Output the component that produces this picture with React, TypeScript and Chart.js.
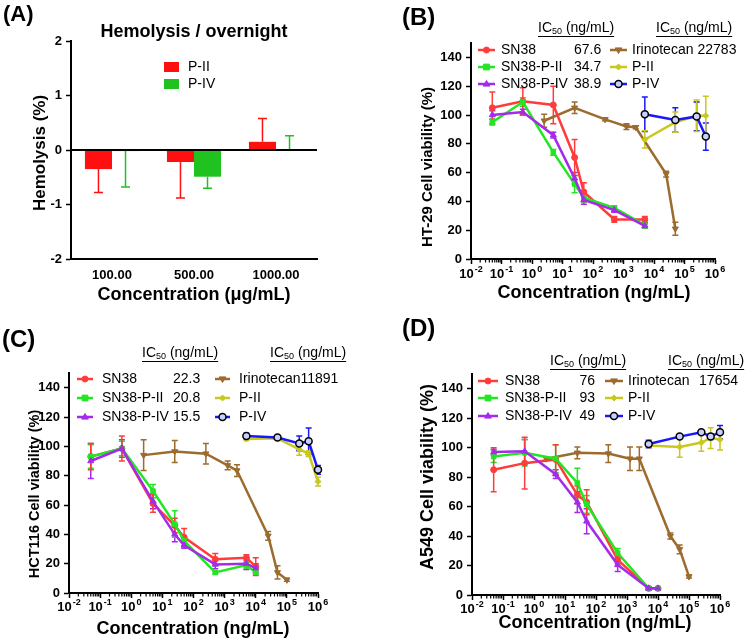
import React, { useEffect, useRef } from 'react';
import { Chart, registerables } from 'chart.js';

Chart.register(...registerables);

const FONT = '"Liberation Sans", Arial, Helvetica, sans-serif';

// ---------- Panel A: hemolysis ----------
const hemoCategories = ['100.00', '500.00', '1000.00'];
const hemoPII = [-0.35, -0.22, 0.15];
const hemoPIIErr = [0.43, 0.66, 0.43];
const hemoPIV = [-0.02, -0.49, 0.01];
const hemoPIVErr = [0.66, 0.21, 0.25];
const hemoYTicks = [-2, -1, 0, 1, 2];

// ---------- shared axis ticks ----------
const xTickExponents = [-2, -1, 0, 1, 2, 3, 4, 5, 6];
const viabilityYTicks = [0, 20, 40, 60, 80, 100, 120, 140];

// ---------- concentrations (ng/mL) ----------
const concSN38HT29 = [0.05, 0.5, 5, 25, 50, 500, 5000];
const concSN38 = [0.05, 0.5, 5, 25, 50, 500, 5000, 10000];
const concIrinoHT29 = [2.5, 25, 250, 1250, 2500, 25000, 50000];
const concIrino = [2.5, 25, 250, 1250, 2500, 25000, 50000, 100000];
const concPolyHT29 = [5000, 50000, 250000, 500000];
const concPoly = [5000, 50000, 250000, 500000, 1000000];

// ---------- Panel B: HT-29 ----------
const htSN38 = [105, 109.5, 107, 70.5, 46.5, 27.5, 27.5];
const htSN38Err = [11, 9.5, 13, 12.5, 6.5, 2, 2];
const htSN38PII = [95, 109, 74, 52, 42.5, 35.5, 23.5];
const htSN38PIIErr = [2, 3, 2, 6, 3, 1.5, 2];
const htSN38PIV = [100, 102, 86, 56, 41, 34, 23];
const htSN38PIVErr = [3, 2, 2, 4, 3, 1.5, 1.5];
const htIrino = [96, 105, 97, 92, 91.5, 59, 21];
const htIrinoErr = [4.5, 4, 1, 2, 1, 2, 4.5];
const htPII = [83, 95, 99.5, 99.5];
const htPIIErr = [6, 7, 11, 13.5];
const htPIV = [100.5, 96.5, 99, 85];
const htPIVErr = [12, 8.5, 10, 9.5];
const htIC50 = ['67.6', '34.7', '38.9'];
const htIC50Irino = '22783';

// ---------- Panel C: HCT116 ----------
const hctSN38 = [93, 98.5, 61, 46, 38, 23, 24, 18];
const hctSN38Err = [9, 8.5, 6, 5, 6, 4, 2, 6];
const hctSN38PII = [93, 98.5, 69.5, 47, 35.5, 14, 19, 14];
const hctSN38PIIErr = [8, 5, 4.5, 9, 3, 1, 2, 1];
const hctSN38PIV = [90, 98.5, 62.5, 40, 32.5, 19.5, 20, 17];
const hctSN38PIVErr = [12, 6, 5, 5, 2, 3, 4, 3];
const hctIrino = [94, 96.5, 95, 87, 83.5, 39, 14, 9];
const hctIrinoErr = [10.5, 7.5, 7, 3, 4, 3, 4.5, 1];
const hctPII = [105, 105.5, 98, 95, 76];
const hctPIIErr = [1, 1, 4, 2, 3];
const hctPIV = [107, 106, 102, 103.5, 84];
const hctPIVErr = [2, 1, 5, 9, 3];
const hctIC50 = ['22.3', '20.8', '15.5'];
const hctIC50Irino = '11891';

// ---------- Panel D: A549 ----------
const a549SN38 = [85, 89.5, 92, 68, 63, 24, 4.5, 4.5];
const a549SN38Err = [15, 17.5, 10, 6, 8.5, 3, 1, 1];
const a549SN38PII = [94, 96.5, 92.5, 76, 61.5, 28.5, 4.5, 4.5];
const a549SN38PIIErr = [4, 9, 9.5, 10, 6, 3, 1, 1];
const a549SN38PIV = [97, 97.5, 82, 63, 50, 20.5, 4.5, 4.5];
const a549SN38PIVErr = [2, 8, 3, 7, 8.5, 4.5, 1, 1];
const a549Irino = [92.5, 96.5, 96, 92.5, 92.5, 40, 31, 12.5];
const a549IrinoErr = [1, 4, 6, 8, 8, 2, 3, 1];
const a549PII = [101.5, 100.5, 103.5, 106.5, 105.5];
const a549PIIErr = [1, 7, 6, 7, 7];
const a549PIV = [102.5, 107.5, 110.5, 107.5, 110.5];
const a549PIVErr = [2.5, 1, 1, 2, 4.5];
const a549IC50 = ['76', '93', '49'];
const a549IC50Irino = '17654';

// ---------- styles ----------
type Style = { color: string; point: string; rot: number; radius: number; fill: string; border: string; bw: number };
const sSN38: Style = { color: '#ff3c3c', point: 'circle', rot: 0, radius: 3, fill: '#ff3c3c', border: '#ff3c3c', bw: 1 };
const sSN38PII: Style = { color: '#22e622', point: 'rect', rot: 0, radius: 3.2, fill: '#22e622', border: '#22e622', bw: 1 };
const sSN38PIV: Style = { color: '#a42bea', point: 'triangle', rot: 0, radius: 3.5, fill: '#a42bea', border: '#a42bea', bw: 1 };
const sIrino: Style = { color: '#9c6b2e', point: 'triangle', rot: 180, radius: 3.5, fill: '#9c6b2e', border: '#9c6b2e', bw: 1 };
const sPII: Style = { color: '#c8c81e', point: 'rectRot', rot: 0, radius: 3, fill: '#c8c81e', border: '#c8c81e', bw: 1 };
const sPIV: Style = { color: '#1818ff', point: 'circle', rot: 0, radius: 3.5, fill: '#c8d0ff', border: '#000000', bw: 1.5 };

type Series = { name: string; conc: number[]; vals: number[]; errs: number[]; st: Style };

function drawMarker(ctx: CanvasRenderingContext2D, st: Style, x: number, y: number) {
  const r = st.radius;
  ctx.save();
  ctx.fillStyle = st.fill;
  ctx.strokeStyle = st.border;
  ctx.lineWidth = st.bw;
  ctx.beginPath();
  if (st.point === 'circle') {
    ctx.arc(x, y, r, 0, Math.PI * 2);
  } else if (st.point === 'rect') {
    const h = r * 0.9;
    ctx.rect(x - h, y - h, 2 * h, 2 * h);
  } else if (st.point === 'rectRot') {
    ctx.moveTo(x, y - r); ctx.lineTo(x + r, y); ctx.lineTo(x, y + r); ctx.lineTo(x - r, y); ctx.closePath();
  } else if (st.point === 'triangle') {
    const s = st.rot === 180 ? -1 : 1;
    ctx.moveTo(x, y - s * r); ctx.lineTo(x + r * 0.95, y + s * r * 0.6); ctx.lineTo(x - r * 0.95, y + s * r * 0.6); ctx.closePath();
  }
  ctx.fill();
  ctx.stroke();
  ctx.restore();
}

const errorBars = {
  id: 'errorBars',
  beforeDatasetsDraw(chart: any) { paintErrors(chart, false); },
  afterDatasetsDraw(chart: any) { paintErrors(chart, true); },
};

function paintErrors(chart: any, onTop: boolean) {
  const ctx: CanvasRenderingContext2D = chart.ctx;
  const ys = chart.scales.y;
  chart.data.datasets.forEach((ds: any, i: number) => {
    if (!ds.errors || !!ds.errorsOnTop !== onTop) return;
    const meta = chart.getDatasetMeta(i);
    ctx.save();
    ctx.strokeStyle = ds.errorColor || ds.borderColor;
    ctx.lineWidth = 1.5;
    meta.data.forEach((el: any, j: number) => {
      const e = ds.errors[j];
      if (!e) return;
      const raw = ds.data[j];
      const v = typeof raw === 'number' ? raw : raw.y;
      const x = el.x;
      const cw = ds.capHalf || 3;
      ctx.beginPath();
      if (ds.oneSided) {
        const end = v >= 0 ? v + e : v - e;
        const p0 = ys.getPixelForValue(v);
        const p1 = ys.getPixelForValue(end);
        ctx.moveTo(x, p0); ctx.lineTo(x, p1);
        ctx.moveTo(x - cw, p1); ctx.lineTo(x + cw, p1);
      } else {
        const pt = ys.getPixelForValue(v + e);
        const pb = ys.getPixelForValue(v - e);
        ctx.moveTo(x, pt); ctx.lineTo(x, pb);
        ctx.moveTo(x - cw, pt); ctx.lineTo(x + cw, pt);
        ctx.moveTo(x - cw, pb); ctx.lineTo(x + cw, pb);
      }
      ctx.stroke();
    });
    ctx.restore();
  });
}

function drawRotatedTitle(ctx: CanvasRenderingContext2D, text: string, cx: number, cy: number, size: number) {
  ctx.save();
  ctx.translate(cx, cy);
  ctx.rotate(-Math.PI / 2);
  ctx.font = `bold ${size}px ${FONT}`;
  ctx.fillStyle = '#000';
  ctx.textAlign = 'center';
  ctx.textBaseline = 'middle';
  ctx.fillText(text, 0, 0);
  ctx.restore();
}

function drawCenteredText(ctx: CanvasRenderingContext2D, text: string, cx: number, cy: number, font: string) {
  ctx.save();
  ctx.font = font;
  ctx.fillStyle = '#000';
  ctx.textAlign = 'center';
  ctx.textBaseline = 'middle';
  ctx.fillText(text, cx, cy);
  ctx.restore();
}

function drawIC50Header(ctx: CanvasRenderingContext2D, x: number, y: number) {
  ctx.save();
  ctx.fillStyle = '#000';
  ctx.textAlign = 'left';
  ctx.textBaseline = 'middle';
  ctx.font = `14px ${FONT}`;
  ctx.fillText('IC', x, y);
  let w = ctx.measureText('IC').width;
  ctx.font = `9px ${FONT}`;
  ctx.fillText('50', x + w, y + 4);
  w += ctx.measureText('50').width;
  ctx.font = `14px ${FONT}`;
  ctx.fillText(' (ng/mL)', x + w, y);
  w += ctx.measureText(' (ng/mL)').width;
  ctx.fillRect(x, y + 8, w, 1);
  ctx.restore();
}

type LegendSpec = {
  headers: [number, number][];
  rows: number[];
  left: { x1: number; x2: number; tx: number; vx: number; valign: 'left' | 'right' };
  right: { x1: number; x2: number; tx: number; gap?: number; vx?: number };
  leftValues: string[];
  irinoValue: string;
};

type PanelSpec = {
  series: Series[];
  padTop: number; padRight: number; yWidth: number; xHeight: number;
  yTitle: string; yTitleSize: number; yTitlePos: [number, number];
  xTitlePos: [number, number];
  xLabelY: number;
  legend: LegendSpec;
};

function viabilityDecor(p: PanelSpec) {
  return {
    id: 'viabilityDecor',
    afterDraw(chart: any) {
      const ctx: CanvasRenderingContext2D = chart.ctx;
      const xs = chart.scales.x;
      const area = chart.chartArea;
      ctx.save();
      // minor ticks on the log axis
      ctx.strokeStyle = '#000';
      ctx.lineWidth = 1.2;
      for (let e = xTickExponents[0]; e < xTickExponents[xTickExponents.length - 1]; e++) {
        for (let k = 2; k <= 9; k++) {
          const px = xs.getPixelForValue(k * Math.pow(10, e));
          ctx.beginPath();
          ctx.moveTo(px, area.bottom + 1);
          ctx.lineTo(px, area.bottom + 3.5);
          ctx.stroke();
        }
      }
      // x tick labels with superscript exponents
      ctx.fillStyle = '#000';
      ctx.textBaseline = 'middle';
      ctx.textAlign = 'left';
      for (const e of xTickExponents) {
        const px = xs.getPixelForValue(Math.pow(10, e));
        const expStr = e < 0 ? '-' + Math.abs(e) : String(e);
        ctx.font = `bold 13px ${FONT}`;
        const wb = ctx.measureText('10').width;
        ctx.font = `bold 9px ${FONT}`;
        const we = ctx.measureText(expStr).width;
        const x0 = px - (wb + 1 + we) / 2;
        ctx.font = `bold 13px ${FONT}`;
        ctx.fillText('10', x0, p.xLabelY);
        ctx.font = `bold 9px ${FONT}`;
        ctx.fillText(expStr, x0 + wb + 1, p.xLabelY - 4);
      }
      ctx.restore();
      // titles
      drawRotatedTitle(ctx, p.yTitle, p.yTitlePos[0], p.yTitlePos[1], p.yTitleSize);
      drawCenteredText(ctx, 'Concentration (ng/mL)', p.xTitlePos[0], p.xTitlePos[1], `bold 18px ${FONT}`);
      // legend
      const L = p.legend;
      for (const h of L.headers) drawIC50Header(ctx, h[0], h[1]);
      const byName = (n: string) => p.series.find((s) => s.name === n)!;
      const leftNames = ['SN38', 'SN38-P-II', 'SN38-P-IV'];
      const rightNames = ['Irinotecan', 'P-II', 'P-IV'];
      ctx.save();
      ctx.font = `14px ${FONT}`;
      ctx.fillStyle = '#000';
      ctx.textBaseline = 'middle';
      leftNames.forEach((n, i) => {
        const s = byName(n);
        const y = L.rows[i];
        ctx.save();
        ctx.strokeStyle = s.st.color; ctx.lineWidth = 2.5;
        ctx.beginPath(); ctx.moveTo(L.left.x1, y); ctx.lineTo(L.left.x2, y); ctx.stroke();
        ctx.restore();
        drawMarker(ctx, s.st, (L.left.x1 + L.left.x2) / 2, y);
        ctx.textAlign = 'left';
        ctx.fillText(n, L.left.tx, y);
        ctx.textAlign = L.left.valign;
        ctx.fillText(L.leftValues[i], L.left.vx, y);
      });
      rightNames.forEach((n, i) => {
        const s = byName(n);
        const y = L.rows[i];
        ctx.save();
        ctx.strokeStyle = s.st.color; ctx.lineWidth = 2.5;
        ctx.beginPath(); ctx.moveTo(L.right.x1, y); ctx.lineTo(L.right.x2, y); ctx.stroke();
        ctx.restore();
        drawMarker(ctx, s.st, (L.right.x1 + L.right.x2) / 2, y);
        ctx.textAlign = 'left';
        ctx.fillText(n, L.right.tx, y);
        if (n === 'Irinotecan') {
          if (L.right.vx !== undefined) {
            ctx.textAlign = 'right';
            ctx.fillText(L.irinoValue, L.right.vx, y);
          } else {
            ctx.fillText(L.irinoValue, L.right.tx + ctx.measureText(n).width + (L.right.gap || 0), y);
          }
        }
      });
      ctx.restore();
    },
  };
}

const axisGrid = { display: true, drawOnChartArea: false, drawTicks: true, tickLength: 5, tickWidth: 1.5, tickColor: '#000' };
const axisBorder = { display: true, color: '#000', width: 2 };

function buildViability(p: PanelSpec): any {
  const datasets = p.series.map((s) => ({
    label: s.name,
    data: s.conc.map((c, i) => ({ x: c, y: s.vals[i] })),
    errors: s.errs,
    borderColor: s.st.color,
    backgroundColor: s.st.color,
    errorColor: s.name === 'P-IV' ? '#1818ff' : s.st.color,
    borderWidth: 2.5,
    pointStyle: s.st.point,
    pointRotation: s.st.rot,
    pointRadius: s.st.radius,
    pointBackgroundColor: s.st.fill,
    pointBorderColor: s.st.border,
    pointBorderWidth: s.st.bw,
    tension: 0,
    clip: false,
    capHalf: 3,
  }));
  return {
    type: 'line',
    data: { datasets },
    options: {
      animation: false,
      responsive: false,
      devicePixelRatio: 1,
      layout: { padding: { left: 0, top: p.padTop, right: p.padRight, bottom: 0 } },
      plugins: { legend: { display: false }, tooltip: { enabled: false } },
      scales: {
        x: {
          type: 'logarithmic', min: 0.01, max: 1e6,
          afterBuildTicks: (s: any) => { s.ticks = xTickExponents.map((e) => ({ value: Math.pow(10, e) })); },
          afterFit: (s: any) => { s.height = p.xHeight; },
          ticks: { display: false },
          grid: axisGrid,
          border: axisBorder,
        },
        y: {
          type: 'linear', min: 0, max: 150,
          afterBuildTicks: (s: any) => { s.ticks = viabilityYTicks.map((v) => ({ value: v })); },
          afterFit: (s: any) => { s.width = p.yWidth; },
          ticks: { color: '#000', padding: 4, font: { family: FONT, size: 13, weight: 'bold' } },
          grid: axisGrid,
          border: axisBorder,
        },
      },
    },
    plugins: [errorBars, viabilityDecor(p)],
  };
}

function seriesSet(
  sn38: [number[], number[], number[]], pii: [number[], number[], number[]], piv: [number[], number[], number[]],
  irino: [number[], number[], number[]], polyII: [number[], number[], number[]], polyIV: [number[], number[], number[]]
): Series[] {
  // first entry is drawn on top
  return [
    { name: 'SN38-P-IV', conc: piv[0], vals: piv[1], errs: piv[2], st: sSN38PIV },
    { name: 'SN38-P-II', conc: pii[0], vals: pii[1], errs: pii[2], st: sSN38PII },
    { name: 'SN38', conc: sn38[0], vals: sn38[1], errs: sn38[2], st: sSN38 },
    { name: 'P-IV', conc: polyIV[0], vals: polyIV[1], errs: polyIV[2], st: sPIV },
    { name: 'P-II', conc: polyII[0], vals: polyII[1], errs: polyII[2], st: sPII },
    { name: 'Irinotecan', conc: irino[0], vals: irino[1], errs: irino[2], st: sIrino },
  ];
}

const panelB: PanelSpec = {
  series: seriesSet(
    [concSN38HT29, htSN38, htSN38Err], [concSN38HT29, htSN38PII, htSN38PIIErr], [concSN38HT29, htSN38PIV, htSN38PIVErr],
    [concIrinoHT29, htIrino, htIrinoErr], [concPolyHT29, htPII, htPIIErr], [concPolyHT29, htPIV, htPIVErr]
  ),
  padTop: 43, padRight: 35, yWidth: 96, xHeight: 63,
  yTitle: 'HT-29 Cell viability (%)', yTitleSize: 15, yTitlePos: [53, 167],
  xTitlePos: [219, 293], xLabelY: 274,
  legend: {
    headers: [[163, 28], [281, 28]], rows: [50, 67, 84],
    left: { x1: 103, x2: 120, tx: 126, vx: 199, valign: 'left' },
    right: { x1: 235, x2: 252, tx: 257, gap: 4 },
    leftValues: htIC50, irinoValue: htIC50Irino,
  },
};

const panelC: PanelSpec = {
  series: seriesSet(
    [concSN38, hctSN38, hctSN38Err], [concSN38, hctSN38PII, hctSN38PIIErr], [concSN38, hctSN38PIV, hctSN38PIVErr],
    [concIrino, hctIrino, hctIrinoErr], [concPoly, hctPII, hctPIIErr], [concPoly, hctPIV, hctPIVErr]
  ),
  padTop: 51, padRight: 57, yWidth: 69, xHeight: 51,
  yTitle: 'HCT116 Cell viability (%)', yTitleSize: 14.5, yTitlePos: [35, 172],
  xTitlePos: [193, 307], xLabelY: 285,
  legend: {
    headers: [[142, 31], [270, 31]], rows: [57, 76, 95],
    left: { x1: 77, x2: 93, tx: 102, vx: 173, valign: 'left' },
    right: { x1: 215, x2: 230, tx: 239, gap: 0 },
    leftValues: hctIC50, irinoValue: hctIC50Irino,
  },
};

const panelD: PanelSpec = {
  series: seriesSet(
    [concSN38, a549SN38, a549SN38Err], [concSN38, a549SN38PII, a549SN38PIIErr], [concSN38, a549SN38PIV, a549SN38PIVErr],
    [concIrino, a549Irino, a549IrinoErr], [concPoly, a549PII, a549PIIErr], [concPoly, a549PIV, a549PIVErr]
  ),
  padTop: 52, padRight: 30, yWidth: 97, xHeight: 49,
  yTitle: 'A549 Cell viability (%)', yTitleSize: 18, yTitlePos: [53, 155],
  xTitlePos: [220, 301], xLabelY: 287,
  legend: {
    headers: [[175, 39], [293, 39]], rows: [59, 76, 94],
    left: { x1: 103, x2: 123, tx: 130, vx: 220, valign: 'right' },
    right: { x1: 230, x2: 248, tx: 253, vx: 363 },
    leftValues: a549IC50, irinoValue: a549IC50Irino,
  },
};

function buildHemolysis(): any {
  const decor = {
    id: 'hemoDecor',
    afterDraw(chart: any) {
      const ctx: CanvasRenderingContext2D = chart.ctx;
      const ys = chart.scales.y;
      const area = chart.chartArea;
      // zero line
      ctx.save();
      ctx.strokeStyle = '#000';
      ctx.lineWidth = 2;
      const y0 = ys.getPixelForValue(0);
      ctx.beginPath(); ctx.moveTo(area.left, y0); ctx.lineTo(area.right, y0); ctx.stroke();
      ctx.restore();
      drawCenteredText(ctx, 'Hemolysis / overnight', 194, 32, `bold 18px ${FONT}`);
      drawRotatedTitle(ctx, 'Hemolysis (%)', 40, 153, 17);
      drawCenteredText(ctx, 'Concentration (\u03bcg/mL)', 194, 295, `bold 18px ${FONT}`);
      // legend
      const ds = chart.data.datasets;
      ctx.save();
      ctx.font = `14px ${FONT}`;
      ctx.textBaseline = 'middle';
      ctx.textAlign = 'left';
      [67, 84].forEach((y, i) => {
        ctx.fillStyle = ds[i].backgroundColor;
        ctx.fillRect(164, y - 5, 15, 10);
        ctx.fillStyle = '#000';
        ctx.fillText(ds[i].label, 188, y);
      });
      ctx.restore();
    },
  };
  return {
    type: 'bar',
    data: {
      labels: hemoCategories,
      datasets: [
        { label: 'P-II', data: hemoPII, backgroundColor: '#ff1010', borderColor: '#ff1010', errors: hemoPIIErr, oneSided: true, errorsOnTop: true, capHalf: 4.5, categoryPercentage: 0.66, barPercentage: 1.0 },
        { label: 'P-IV', data: hemoPIV, backgroundColor: '#1fc21f', borderColor: '#1fc21f', errors: hemoPIVErr, oneSided: true, errorsOnTop: true, capHalf: 4.5, categoryPercentage: 0.66, barPercentage: 1.0 },
      ],
    },
    options: {
      animation: false,
      responsive: false,
      devicePixelRatio: 1,
      layout: { padding: { left: 0, top: 41, right: 58, bottom: 0 } },
      plugins: { legend: { display: false }, tooltip: { enabled: false } },
      scales: {
        x: {
          afterFit: (s: any) => { s.height = 63; },
          grid: { display: false },
          border: axisBorder,
          ticks: { color: '#000', padding: 1, font: { family: FONT, size: 13, weight: 'bold' } },
        },
        y: {
          min: -2, max: 2,
          afterBuildTicks: (s: any) => { s.ticks = hemoYTicks.map((v) => ({ value: v })); },
          afterFit: (s: any) => { s.width = 71; },
          ticks: { color: '#000', padding: 4, font: { family: FONT, size: 13, weight: 'bold' } },
          grid: axisGrid,
          border: axisBorder,
        },
      },
    },
    plugins: [errorBars, decor],
  };
}

function ChartBox({ left, top, build }: { left: number; top: number; build: () => any }) {
  const ref = useRef<HTMLCanvasElement>(null);
  useEffect(() => {
    const chart = new Chart(ref.current as HTMLCanvasElement, build());
    return () => chart.destroy();
  }, []);
  return (
    <canvas
      ref={ref}
      width={375}
      height={322}
      style={{ position: 'absolute', left, top, width: 375, height: 322 }}
    />
  );
}

function Letter({ text, left, top, size }: { text: string; left: number; top: number; size: number }) {
  return (
    <div style={{ position: 'absolute', left, top, font: `bold ${size}px ${FONT}`, lineHeight: `${size}px`, color: '#000' }}>
      {text}
    </div>
  );
}

export default function App() {
  return (
    <div style={{ position: 'absolute', left: 0, top: 0, width: 750, height: 644, background: '#fff', overflow: 'hidden' }}>
      <ChartBox left={0} top={0} build={buildHemolysis} />
      <ChartBox left={375} top={0} build={() => buildViability(panelB)} />
      <ChartBox left={0} top={322} build={() => buildViability(panelC)} />
      <ChartBox left={375} top={322} build={() => buildViability(panelD)} />
      <Letter text="(A)" left={3} top={3} size={22} />
      <Letter text="(B)" left={402} top={5} size={24} />
      <Letter text="(C)" left={2} top={327} size={24} />
      <Letter text="(D)" left={402} top={316} size={24} />
    </div>
  );
}
